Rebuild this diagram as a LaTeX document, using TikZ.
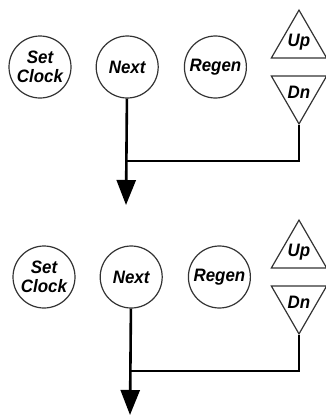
\documentclass[tikz,border=0pt]{standalone}
\usepackage{fontspec}
\setmainfont{Liberation Sans}
\newfontfamily\keyfont[FakeStretch=0.94]{Liberation Sans}
\usetikzlibrary{arrows.meta,positioning,shapes.geometric}

\begin{document}
\begin{tikzpicture}[x=1pt, y=-1pt, >={Triangle[length=25pt,width=19pt]}, node distance=24pt]
    \tikzstyle{btn}=[circle,draw=black!80,line width=1.2pt,minimum size=62pt,inner sep=0pt,align=center,font=\keyfont\fontsize{18}{18.5}\selectfont\bfseries\itshape]
    \tikzstyle{tri}=[regular polygon,regular polygon sides=3,draw=black!80,line width=1.2pt,minimum size=60pt,inner sep=0pt,font=\keyfont\fontsize{18}{18.5}\selectfont\bfseries\itshape]
    \tikzstyle{wire}=[line width=2.6pt]
    \useasboundingbox (0,0) rectangle (325,416);

    % two identical key panels, one above the other
    \foreach \p/\ox/\oy in {a/0/0, b/4/210} {
        \node[btn] (clock\p) at (40+\ox,67+\oy) {Set\\Clock};
        \node[btn, right=24pt of clock\p] (next\p) {Next};
        \node[btn, right=25pt of next\p] (regen\p) {Regen};
        \node[tri] (up\p) at (299,42+\oy) {Up};
        \node[tri, shape border rotate=180] (dn\p) at (299,92+\oy) {Dn};
        \coordinate (join\p) at (126+\ox,161+\oy);
        \coordinate (end\p) at (126+\ox,205+\oy);

        \draw[wire,->] (next\p) -- (end\p);
        \draw[wire] (dn\p.corner 1) |- (join\p);
    }
\end{tikzpicture}
\end{document}
